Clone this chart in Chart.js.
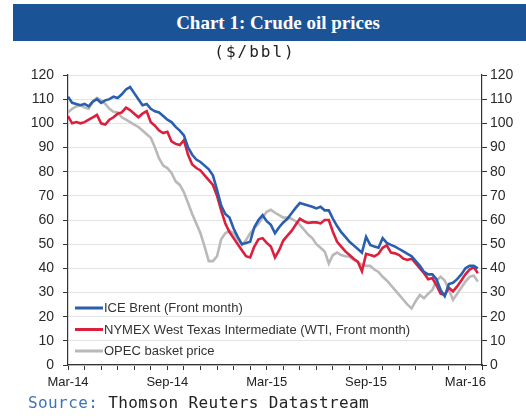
<!DOCTYPE html>
<html>
<head>
<meta charset="utf-8">
<script src="https://cdn.jsdelivr.net/npm/chart.js@4.4.1/dist/chart.umd.min.js"></script>
<style>
  body { margin: 0; background: #fff; }
  #wrap { position: relative; width: 526px; height: 418px; overflow: hidden; }
  #titlebar {
    position: absolute; left: 13px; top: 4px; width: 513px; height: 37px;
    background: #1b5397; color: #fff;
    font: bold 19px "Liberation Serif", serif;
    line-height: 37px; text-align: center; box-sizing: border-box; padding-left: 17px;
  }
  #unit {
    position: absolute; left: 0; width: 510px; top: 42px; text-align: center;
    font: 16px "DejaVu Sans Mono", monospace; color: #222; letter-spacing: 2px;
  }
  #source {
    position: absolute; left: 28px; top: 393px;
    font: 16px "DejaVu Sans Mono", monospace; color: #222; letter-spacing: 0.4px;
  }
  #source span { color: #3f73b8; }
  canvas { position: absolute; left: 0; top: 0; }
</style>
</head>
<body>
<div id="wrap">
  <canvas id="oilChart" width="526" height="418"></canvas>
  <div id="titlebar">Chart 1: Crude oil prices</div>
  <div id="unit">($/bbl)</div>
  <div id="source"><span>Source:</span> Thomson Reuters Datastream</div>
</div>
<script>
// weekly readings (4 per month), starting Mar-14
const brent = [
  111, 108.5, 108, 107.5, 108, 107, 109, 110, 108.5, 109.5, 110, 111, 110.5, 112, 114, 115,
  112.5, 110, 107.5, 108, 106, 105, 104.5, 103, 101.5, 100.5, 98.5, 97, 95, 90, 87, 85,
  84, 82.5, 81, 78.5, 72.5, 66, 62.5, 61, 56.5, 53, 50, 50.5, 51, 57, 60, 62,
  59.5, 58, 54.5, 57, 59, 60.5, 62.8, 65, 67, 66.5, 66, 65.5, 64.8, 65.5, 64, 64,
  60.5, 57.5, 55, 53, 51, 49.5, 48, 46.5, 53, 49.7, 49, 48.5, 52.5, 50.5, 49.7, 49,
  48, 47, 46, 45, 43, 41, 38.5, 37.5, 37.5, 35.5, 31, 28.5, 33.5, 34, 35.5, 37.5,
  40, 41, 41, 40
];
const wti = [
  103, 100, 100.5, 100, 100.5, 101.5, 102.5, 103.5, 100, 99.5, 101.5, 102.5, 104, 104.5, 106.5, 105.5,
  104, 102.5, 104, 105, 100.5, 99, 97, 96, 96.5, 92.5, 91.5, 91, 93, 87, 83, 81.5,
  80.5, 78.5, 76.5, 74.5, 70, 64, 58.5, 55, 52.5, 50, 47.5, 45, 44.5, 49, 52, 52.5,
  50.5, 49, 44.5, 47.5, 51.5, 53.5, 55.5, 58, 60.5, 59.5, 58.8, 59, 59, 58.6, 60, 60,
  55, 51, 49, 47, 45.5, 44, 42.7, 38.8, 46, 45.5, 45, 46, 48.5, 49.5, 46.5, 46.2,
  45.5, 44, 43.5, 44, 42, 40, 38, 35.5, 36, 33, 29.5, 29, 32, 30.5, 32.5, 35,
  37.5, 39.5, 40.5, 38
];
const opec = [
  104.5, 106, 107, 107.5, 106.5, 106, 109, 110.5, 109.5, 108, 106, 104.8, 104.5, 102.5, 101.5, 100.5,
  99.5, 98.5, 97, 95.5, 94, 90, 85.5, 82.5, 81.5, 79.5, 76, 74.5, 71.5, 67, 62.5, 58.5,
  54.5, 49, 43, 43, 45, 52, 54.5, 55.5, 54.5, 52, 49.7, 51.7, 54.5, 56.5, 58.5, 61,
  63.4, 64.2, 63, 62, 61, 61, 60.5, 59.5, 58, 56, 54, 52.5, 50, 48.5, 47, 42,
  45.5, 46.5, 45.5, 45, 44.8, 43.5, 42.7, 41.5, 41, 41, 39.5, 38.5, 36.5, 35, 33, 31,
  29, 27, 25, 23.4, 26.5, 29, 27.6, 29.5, 31, 35, 36.5, 35, 31, 27, 29.5, 32,
  34.5, 36.5, 37, 34.5
];
const seriesNames = [
  'ICE Brent (Front month)',
  'NYMEX West Texas Intermediate (WTI, Front month)',
  'OPEC basket price'
];
const monthLabels = { 0: 'Mar-14', 6: 'Sep-14', 12: 'Mar-15', 18: 'Sep-15', 24: 'Mar-16' };

const toPoints = arr => arr.map((v, i) => ({ x: i / 4, y: v }));

const axisFont = { family: 'Liberation Sans, Arial, sans-serif', size: 14 };

// legend drawn inside the plot, bottom left
const insideLegend = {
  id: 'insideLegend',
  afterDraw(chart) {
    const ctx = chart.ctx;
    ctx.save();
    ctx.font = '13px "Liberation Sans", Arial, sans-serif';
    ctx.textBaseline = 'middle';
    chart.data.datasets.forEach((ds, row) => {
      const y = 308 + row * 21.5;
      ctx.strokeStyle = ds.borderColor;
      ctx.lineWidth = 3;
      ctx.beginPath();
      ctx.moveTo(75, y);
      ctx.lineTo(103, y);
      ctx.stroke();
      ctx.fillStyle = '#333';
      ctx.fillText(ds.label, 104, y + 0.5);
    });
    ctx.restore();
  }
};

const ctx = document.getElementById('oilChart').getContext('2d');
new Chart(ctx, {
  type: 'line',
  data: {
    datasets: [
      { label: seriesNames[0], data: toPoints(brent), borderColor: '#2a5fae', order: 1 },
      { label: seriesNames[1], data: toPoints(wti), borderColor: '#dc1f3d', order: 2 },
      { label: seriesNames[2], data: toPoints(opec), borderColor: '#b9b9b9', order: 3 }
    ]
  },
  options: {
    responsive: false,
    animation: false,
    layout: { padding: { top: 75, left: 0, right: 0, bottom: 0 } },
    elements: {
      point: { radius: 0 },
      line: { borderWidth: 2.6, tension: 0 }
    },
    plugins: { legend: { display: false }, tooltip: { enabled: false } },
    scales: {
      x: {
        type: 'linear',
        min: 0,
        max: 25,
        afterFit: s => { s.height = 53; },
        afterBuildTicks: s => { s.ticks = Array.from({ length: 26 }, (_, i) => ({ value: i })); },
        ticks: {
          autoSkip: false,
          maxRotation: 0,
          padding: 5,
          color: '#222',
          font: { family: 'Liberation Sans, Arial, sans-serif', size: 13 },
          callback: v => monthLabels[v] || ''
        },
        grid: { drawOnChartArea: false, tickLength: 5, tickColor: '#333' },
        border: { color: '#333', width: 1.2 }
      },
      y: {
        position: 'left',
        min: 0,
        max: 120,
        afterFit: s => { s.width = 68; },
        ticks: { stepSize: 10, padding: 9, color: '#2a2a2a', font: axisFont },
        grid: { color: '#e4e4e4', tickLength: 5, tickColor: '#333' },
        border: { color: '#333', width: 1.2 }
      },
      y2: {
        position: 'right',
        min: 0,
        max: 120,
        afterFit: s => { s.width = 44; },
        ticks: { stepSize: 10, padding: 3, color: '#2a2a2a', font: axisFont },
        grid: { drawOnChartArea: false, tickLength: 5, tickColor: '#333' },
        border: { color: '#333', width: 1.2 }
      }
    }
  },
  plugins: [insideLegend]
});
</script>
</body>
</html>
